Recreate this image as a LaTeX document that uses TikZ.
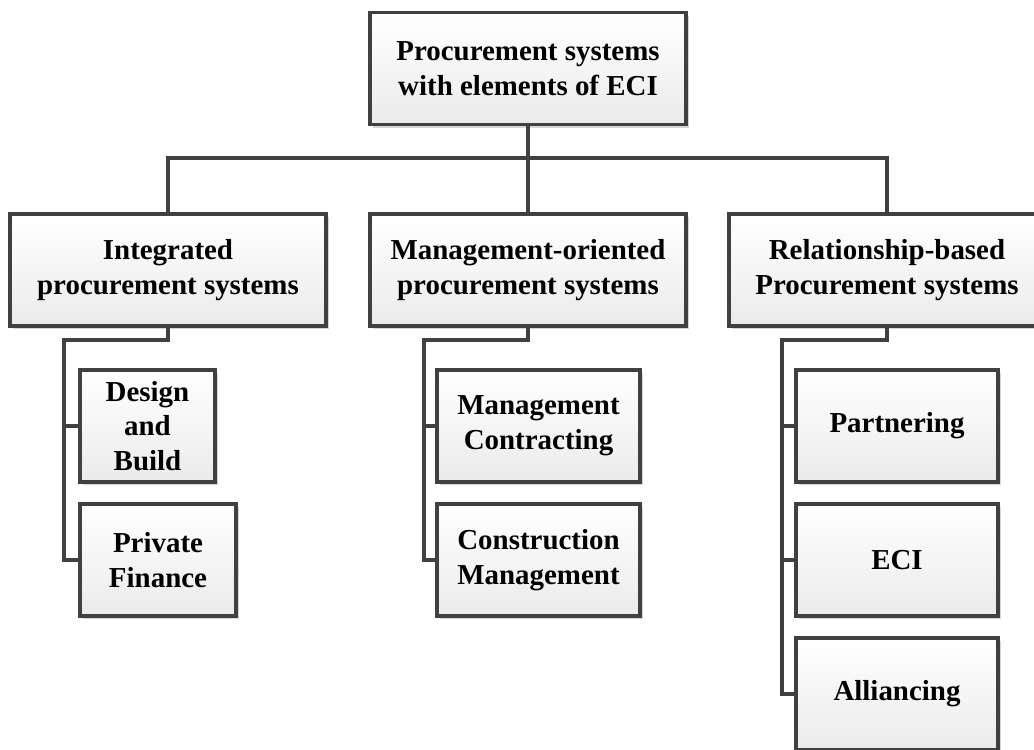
\documentclass[tikz,border=0pt]{standalone}
\usepackage{fontspec}
\setmainfont{Liberation Serif}
\usetikzlibrary{shadows}
\definecolor{linegray}{HTML}{404040}

\begin{document}
\begin{tikzpicture}[x=0.75pt,y=-0.75pt,
  box/.style={draw=linegray, line width=2.3pt, top color=white, bottom color=black!8,
    minimum height=84pt, inner sep=0pt, align=center,
    font=\fontsize{21.7}{26}\selectfont\bfseries,
    drop shadow={shadow xshift=2.5pt, shadow yshift=-2.5pt, fill=black!16, opacity=1}},
  link/.style={draw=linegray, line width=2.3pt}]
\useasboundingbox (0,0) rectangle (1034,749);
\node[box, minimum width=237pt] (root) at (528,68.5) {Procurement systems\\with elements of ECI};
\node[box, minimum width=237pt] (integ) at (168,270) {Integrated\\procurement systems};
\node[box, minimum width=237pt] (mgmt) at (528,270) {Management-oriented\\procurement systems};
\node[box, minimum width=237pt] (rel) at (887,270) {Relationship-based\\Procurement systems};
\node[box, minimum width=101.25pt] (db) at (147.5,426) {Design\\and\\Build};
\node[box, minimum width=117pt] (pf) at (158,560) {Private\\Finance};
\node[box, minimum width=152.25pt] (mc) at (538.5,426) {Management\\Contracting};
\node[box, minimum width=152.25pt] (cm) at (538.5,560) {Construction\\Management};
\node[box, minimum width=151.5pt] (part) at (897,426) {Partnering};
\node[box, minimum width=151.5pt] (eci) at (897,560) {ECI};
\node[box, minimum width=151.5pt] (alli) at (897,694) {Alliancing};
% tree lines
\coordinate (bar) at (528,158);
\draw[link] (root.south) -- (bar);
\draw[link] (integ.north) |- (bar) -| (rel.north);
\draw[link] (bar) -- (mgmt.north);
\coordinate (iv) at (64,340);
\coordinate (mv) at (424,340);
\coordinate (rv) at (782,340);
\draw[link] (integ.south) |- (iv) |- (pf.west);
\draw[link] (iv |- db.west) -- (db.west);
\draw[link] (mgmt.south) |- (mv) |- (cm.west);
\draw[link] (mv |- mc.west) -- (mc.west);
\draw[link] (rel.south) |- (rv) |- (alli.west);
\draw[link] (rv |- part.west) -- (part.west);
\draw[link] (rv |- eci.west) -- (eci.west);
\end{tikzpicture}
\end{document}
